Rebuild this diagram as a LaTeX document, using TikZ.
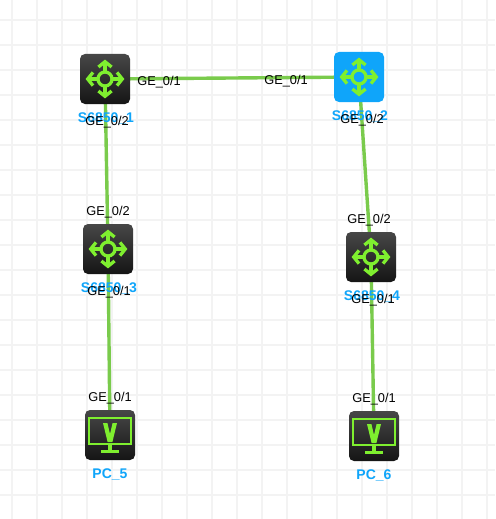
\documentclass[tikz,border=0pt]{standalone}
\usepackage{fontspec}
\setmainfont{Liberation Sans}
\usetikzlibrary{backgrounds}
\definecolor{gridc}{HTML}{F3F3F3}
\definecolor{lnk}{HTML}{7ACB4C}
\definecolor{glyph}{HTML}{7FEF2F}
\definecolor{lab}{HTML}{0FA5FA}
\definecolor{topc}{HTML}{474747}
\definecolor{botc}{HTML}{151515}
\tikzset{
  x=1pt,y=-1pt,
  devbox/.style={minimum size=50pt,inner sep=0pt,rounded corners=5pt,outer sep=0pt},
  darkbox/.style={devbox,top color=topc,bottom color=botc},
  bluebox/.style={devbox,fill=lab},
  portlabel/.style={font=\fontsize{12.8pt}{14pt}\selectfont,text=black,inner sep=0pt},
  devlabel/.style={font=\bfseries\fontsize{14pt}{16pt}\selectfont,text=lab,inner sep=0pt},
  link/.style={draw=lnk,line width=3.4pt},
  gl/.style={draw=glyph,line width=3.3pt},
  glf/.style={fill=glyph},
}
\newcommand{\swglyph}[1]{%
  \begin{scope}[shift={(#1)}]
    \draw[gl] (0,0) circle (7);
    \foreach \a in {0,90,180,270}{
      \begin{scope}[rotate=\a]
        \draw[gl] (8,0) -- (18,0);
        \draw[gl,miter limit=10] (12,-6.6) -- (17.3,0) -- (12,6.6);
      \end{scope}
    }
  \end{scope}}
\newcommand{\pcglyph}[1]{%
  \begin{scope}[shift={(#1)}]
    \draw[draw=glyph,line width=2.8pt] (-21,-17) rectangle (21,9);
    \fill[glf] (-7,-12) -- (-2.6,-12) -- (0,-1) -- (2.6,-12) -- (7,-12) -- (2.4,7) -- (-2.4,7) -- cycle;
    \fill[glf] (-2,10) rectangle (2,15);
    \fill[glf] (-9,15) -- (9,15) -- (9,17.5) -- (-9,17.5) -- cycle;
  \end{scope}}
\begin{document}
\begin{tikzpicture}
\useasboundingbox (0,0) rectangle (495,519);

\node[darkbox] (s1) at (105,79) {};
\node[bluebox] (s2) at (359,77) {};
\node[darkbox] (s3) at (108,249) {};
\node[darkbox] (s4) at (371,257) {};
\node[darkbox] (p5) at (110,435) {};
\node[darkbox] (p6) at (374,436) {};

\begin{pgfonlayer}{background}
  \fill[white] (0,0) rectangle (495,519);
  \foreach \i in {0,...,19} \draw[gridc,line width=2.4pt] ({12+25*\i},0) -- ({12+25*\i},519);
  \foreach \i in {0,...,20} \draw[gridc,line width=2.4pt] (0,{20+25*\i}) -- (495,{20+25*\i});
  \draw[link] (s1.center) -- (s2.center);
  \draw[link] (s1.center) -- (s3.center);
  \draw[link] (s2.center) -- (s4.center);
  \draw[link] (s3.center) -- (p5.center);
  \draw[link] (s4.center) -- (p6.center);
\end{pgfonlayer}

\swglyph{s1.center}
\swglyph{s2.center}
\swglyph{s3.center}
\swglyph{s4.center}
\pcglyph{p5.center}
\pcglyph{p6.center}

\node[devlabel] (n1) at (106,118) {S6850\_1};
\node[devlabel] (n2) at (360,116) {S6850\_2};
\node[devlabel] (n3) at (109,288) {S6850\_3};
\node[devlabel] (n4) at (372,296) {S6850\_4};
\node[devlabel] (n5) at (110,474) {PC\_5};
\node[devlabel] (n6) at (374,475) {PC\_6};

\node[portlabel] (a1) at (159,82) {GE\_0/1};
\node[portlabel] (a2) at (286,81) {GE\_0/1};
\node[portlabel] (a3) at (107,122) {GE\_0/2};
\node[portlabel] (a4) at (362,120) {GE\_0/2};
\node[portlabel] (a5) at (108,212) {GE\_0/2};
\node[portlabel] (a6) at (369,220) {GE\_0/2};
\node[portlabel] (a7) at (109,292) {GE\_0/1};
\node[portlabel] (a8) at (373,300) {GE\_0/1};
\node[portlabel] (a9) at (110,398) {GE\_0/1};
\node[portlabel] (a10) at (374,399) {GE\_0/1};
\end{tikzpicture}
\end{document}
